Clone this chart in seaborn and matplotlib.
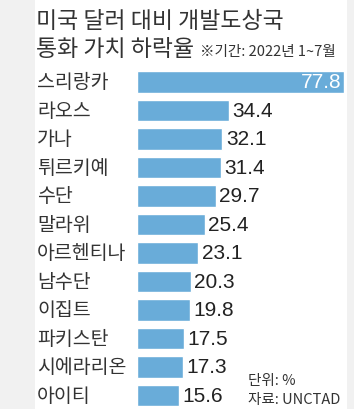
import matplotlib
matplotlib.use("Agg")
import matplotlib.pyplot as plt
import matplotlib.patches as patches
import matplotlib.transforms as mtransforms
import seaborn as sns
import pandas as pd

# data
countries = ['스리랑카', '라오스', '가나', '튀르키예', '수단', '말라위', '아르헨티나',
             '남수단', '이집트', '파키스탄', '시에라리온', '아이티']
drops = [77.8, 34.4, 32.1, 31.4, 29.7, 25.4, 23.1, 20.3, 19.8, 17.5, 17.3, 15.6]

title_lines = ['미국 달러 대비 개발도상국', '통화 가치 하락율']
period_note = '※기간: 2022년 1~7월'
unit_note = '단위: %'
source_note = '자료: UNCTAD'

sns.set_style("white")
KR = ['Noto Sans CJK KR', 'DejaVu Sans']
NUM = ['Liberation Sans', 'DejaVu Sans']
plt.rcParams['font.family'] = KR

W, H = 354, 410
BAR = '#69acd9'
TXT = '#333333'

fig = plt.figure(figsize=(W / 100, H / 100), dpi=100)
fig.patch.set_facecolor('#f1f1f1')
fig.patches.append(patches.Rectangle((35 / W, 0), 312 / W, 1, transform=fig.transFigure,
                                     facecolor='white', edgecolor='none', zorder=-5))

def fx(x):
    return x / W

def fy(y):
    return 1 - y / H

# axes placed so bars line up with the reference
top, bottom = 68.75, 410.75
ax = fig.add_axes([fx(137), fy(bottom), (344 - 137) / W, (bottom - top) / H])
ax.patch.set_alpha(0)

df = pd.DataFrame({'country': countries, 'drop': drops})
sns.barplot(data=df, y='country', x='drop', orient='h', color=BAR, saturation=1,
            width=0.77, ax=ax)
ax.set_xlim(0, 77.8)
ax.set_ylim(len(countries) - 0.5, -0.5)
ax.set_axis_off()

# country labels, left aligned
tr = mtransforms.blended_transform_factory(fig.transFigure, ax.transData)
for i, name in enumerate(countries):
    fig.text(fx(37), i, name, transform=tr, ha='left', va='center',
             fontsize=14, color=TXT, family=KR)

# value labels
for i, v in enumerate(drops):
    if i == 0:
        ax.annotate(f'{v}', (v, i), xytext=(-1.5, 0), textcoords='offset points',
                    ha='right', va='center', fontsize=15, color='white', family=NUM)
    else:
        ax.annotate(f'{v}', (v, i), xytext=(2.5, 0), textcoords='offset points',
                    ha='left', va='center', fontsize=15, color='#222222', family=NUM)

# title and notes
fig.text(fx(36), fy(28), title_lines[0], ha='left', va='baseline', fontsize=16.5, color=TXT)
fig.text(fx(36), fy(56), title_lines[1], ha='left', va='baseline', fontsize=16.5, color=TXT)
fig.text(fx(200), fy(56), period_note, ha='left', va='baseline', fontsize=10.5, color=TXT)
fig.text(fx(248), fy(385), unit_note, ha='left', va='baseline', fontsize=10.5, color=TXT)
fig.text(fx(248), fy(404), source_note, ha='left', va='baseline', fontsize=10.5, color=TXT)

fig.savefig('out.png', dpi=100, facecolor=fig.get_facecolor())
